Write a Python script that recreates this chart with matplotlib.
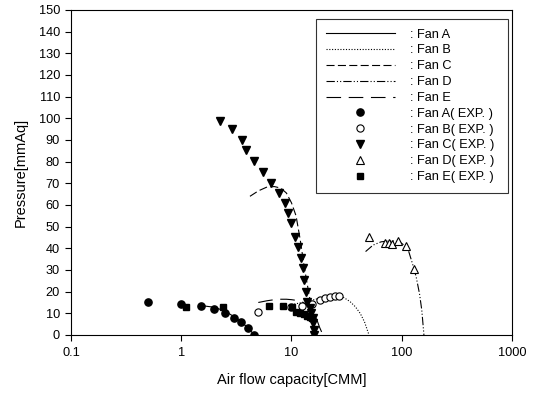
import matplotlib
matplotlib.use('Agg')
import matplotlib.pyplot as plt

plt.rcParams['font.family'] = ['Liberation Sans', 'DejaVu Sans']
plt.rcParams['lines.scale_dashes'] = False

# fitted curves
fan_a_x = [1.5, 2.0, 2.5, 3.0, 3.5, 4.0, 4.6]
fan_a_y = [13.6, 12.8, 11.0, 8.5, 6.0, 3.5, 0.0]
fan_b_x = [10, 14, 18, 22, 27, 30, 34, 38, 42, 46, 50.5]
fan_b_y = [14.0, 15.5, 17.0, 17.8, 18.0, 17.2, 15.4, 13.0, 10.0, 6.0, 0.0]
fan_c_x = [4.2, 5, 6, 7, 8, 9, 10, 11, 12, 13, 14, 15, 16, 16.5]
fan_c_y = [64, 66.5, 68.3, 68.5, 67.8, 65.5, 61, 55, 44, 32, 22.5, 14, 4.5, 0]
fan_d_x = [47, 55, 65, 80, 95, 105, 115, 125, 135, 145, 152, 159]
fan_d_y = [38.5, 41.5, 43, 43.5, 43, 41.5, 39, 33, 27, 19, 11.5, 0]
fan_e_x = [5, 6, 7, 8, 9, 10, 11, 12, 13, 14, 15, 16, 17, 18, 19.3]
fan_e_y = [15, 15.8, 16.3, 16.5, 16.5, 16.3, 16, 15.5, 14.8, 13.8, 12.3, 10, 7, 3.5, 0]

# experiments
exp_a_x = [0.5, 1.0, 1.5, 2.0, 2.5, 3.0, 3.5, 4.0, 4.6]
exp_a_y = [15.2, 14.5, 13.5, 12.0, 10.0, 8.0, 6.0, 3.0, 0.0]
exp_b_x = [5.0, 9.9, 12.5, 15.3, 18.2, 20.1, 22.4, 24.8, 27.2]
exp_b_y = [10.7, 13.0, 13.5, 14.3, 16.2, 16.9, 17.7, 18.1, 18.0]
exp_c_x = [2.24, 2.9, 3.56, 3.87, 4.57, 5.55, 6.47, 7.65, 8.68, 9.35, 9.96,
           10.76, 11.4, 12.1, 12.7, 13.06, 13.5, 13.9, 14.7, 15.0, 15.6,
           15.8, 15.9, 16.0]
exp_c_y = [98.9, 95.1, 90.0, 85.4, 80.3, 75.4, 70.3, 65.4, 60.8, 56.2, 51.5,
           45.4, 40.5, 35.4, 30.8, 25.4, 20.0, 15.4, 12.3, 10.0, 7.7, 5.4,
           2.3, 0.0]
exp_d_x = [50, 71, 77, 82, 93, 109, 129]
exp_d_y = [45.4, 42.3, 42.5, 42.0, 43.5, 41.2, 30.3]
exp_e_x = [1.1, 2.4, 6.3, 8.4, 10.2, 11.1, 12.0, 12.9, 13.7, 14.6, 15.4]
exp_e_y = [12.8, 12.8, 13.5, 13.3, 13.0, 10.8, 10.0, 9.7, 8.9, 8.3, 7.7]

fig = plt.figure(figsize=(5.37, 3.93), dpi=100)
ax = fig.add_axes([0.1322, 0.1476, 0.8212, 0.827])

lw = 0.8
ax.plot(fan_a_x, fan_a_y, color='black', lw=lw, linestyle='-', label=': Fan A')
ax.plot(fan_b_x, fan_b_y, color='black', lw=lw, linestyle=(0, (0.8, 1.2)), label=': Fan B')
ax.plot(fan_c_x, fan_c_y, color='black', lw=lw, linestyle=(0, (5.8, 2.4)), label=': Fan C')
ax.plot(fan_d_x, fan_d_y, color='black', lw=lw, linestyle=(0, (6, 1.5, 0.8, 1.5, 0.8, 1.5)), label=': Fan D')
ax.plot(fan_e_x, fan_e_y, color='black', lw=lw, linestyle=(0, (10.5, 5.5)), label=': Fan E')

ms = 5.2
ax.plot(exp_a_x, exp_a_y, 'o', color='black', ms=ms, label=': Fan A( EXP. )')
ax.plot(exp_b_x, exp_b_y, 'o', mfc='white', mec='black', mew=0.8, ms=ms, label=': Fan B( EXP. )')
ax.plot(exp_c_x, exp_c_y, 'v', color='black', ms=ms + 0.5, label=': Fan C( EXP. )')
ax.plot(exp_d_x, exp_d_y, '^', mfc='white', mec='black', mew=0.8, ms=ms + 0.5, label=': Fan D( EXP. )')
ax.plot(exp_e_x, exp_e_y, 's', color='black', ms=ms - 0.5, label=': Fan E( EXP. )')

ax.set_xscale('log')
ax.set_xlim(0.1, 1000)
ax.set_ylim(0, 150)
ax.set_yticks(range(0, 151, 10))
ax.set_xticks([0.1, 1, 10, 100, 1000])
ax.set_xticklabels(['0.1', '1', '10', '100', '1000'])
ax.minorticks_off()
ax.tick_params(labelsize=9.2, direction='out', length=4, width=0.8, top=False, right=False)
ax.tick_params(axis='x', pad=5)
ax.tick_params(axis='y', pad=4)
for s in ax.spines.values():
    s.set_linewidth(0.8)

ax.set_xlabel('Air flow capacity[CMM]', fontsize=10.5, labelpad=10)
ax.set_ylabel('Pressure[mmAq]', fontsize=10.5, labelpad=8)

leg = ax.legend(loc='upper left', bbox_to_anchor=(0.5556, 0.5, 0.4354, 0.472),
                mode='expand', fontsize=9.2,
                frameon=True, fancybox=False, edgecolor='black',
                handlelength=5.4, handletextpad=1.2, labelspacing=0.3,
                borderpad=0.75, borderaxespad=0)
leg.get_frame().set_linewidth(0.8)

fig.savefig('out.png', dpi=100)
